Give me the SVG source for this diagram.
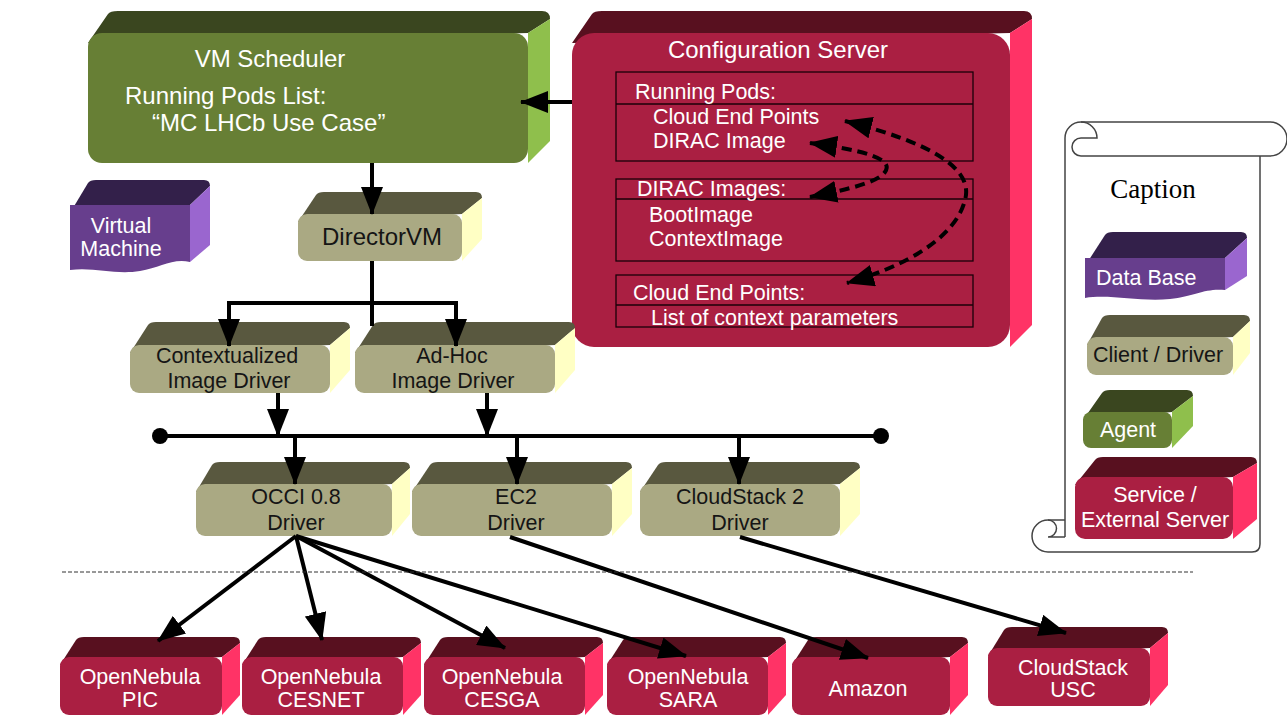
<svg xmlns="http://www.w3.org/2000/svg" width="1287" height="716" viewBox="0 0 1287 716">
<defs>
<style>
.t{font-family:"Liberation Sans",Arial,sans-serif;font-size:21.5px;fill:#fff}
.tb{font-size:24px}
.td{fill:#151515}
.c{stroke:#000;stroke-width:4;fill:none}
.gF{fill:#677f35}.gT{fill:#3a461f}.gS{fill:#8fbf4c}
.mF{fill:#aa1f42}.mT{fill:#58101f}.mS{fill:#ff3366}
.kF{fill:#aaa983}.kT{fill:#59583f}.kS{fill:#ffffc4}
.pF{fill:#673e8d}.pT{fill:#33204a}.pS{fill:#9a66cf}
.ib{fill:none;stroke:#1a0008;stroke-width:1.3}
</style>
<marker id="ah" markerUnits="userSpaceOnUse" markerWidth="28" markerHeight="22" viewBox="0 0 28 22" refX="27" refY="11" orient="auto"><path d="M0,0 L28,11 L0,22 Z" fill="#000"/></marker>
<marker id="ahs" markerUnits="userSpaceOnUse" markerWidth="28" markerHeight="22" viewBox="0 0 28 22" refX="27" refY="11" orient="auto-start-reverse"><path d="M0,0 L28,11 L0,22 Z" fill="#000"/></marker>
</defs>
<rect width="1287" height="716" fill="#fff"/>

<g id="vm-scheduler">
<path class="gT" d="M88,43 L108,14 Q110,11 118,11 L542,11 Q550,11 550,19 L528,33 Z"/>
<path class="gS" d="M528,33 L550,19 L550,141 L528,163 Z"/>
<rect class="gF" x="88" y="33" width="440" height="130" rx="14"/>
<text class="t tb" x="270" y="67" text-anchor="middle">VM Scheduler</text>
<text class="t tb" x="125" y="104">Running Pods List:</text>
<text class="t tb" x="152" y="131">“MC LHCb Use Case”</text>
</g>

<g id="config-server">
<path class="mT" d="M572,43 L592,14 Q594,11 602,11 L1024,11 Q1032,11 1032,19 L1010,33 Z"/>
<path class="mS" d="M1010,33 L1032,19 L1032,325 L1010,347 Z"/>
<rect class="mF" x="572" y="33" width="438" height="314" rx="22"/>
<text class="t tb" x="778" y="58" text-anchor="middle">Configuration Server</text>
<rect class="ib" x="616" y="72" width="357" height="89"/>
<line class="ib" x1="616" y1="104" x2="973" y2="104"/>
<text class="t" x="635" y="99">Running Pods:</text>
<text class="t" x="653" y="124">Cloud End Points</text>
<text class="t" x="653" y="148">DIRAC Image</text>
<rect class="ib" x="616" y="179" width="357" height="82"/>
<line class="ib" x1="616" y1="199" x2="973" y2="199"/>
<text class="t" x="637" y="196">DIRAC Images:</text>
<text class="t" x="649" y="222">BootImage</text>
<text class="t" x="649" y="246">ContextImage</text>
<rect class="ib" x="616" y="275" width="357" height="52"/>
<line class="ib" x1="616" y1="305" x2="973" y2="305"/>
<text class="t" x="633" y="300">Cloud End Points:</text>
<text class="t" x="651" y="325">List of context parameters</text>
</g>

<g id="virtual-machine">
<path class="pT" d="M70,213 L88,183 Q90,180 96,180 L204,180 Q210,180 210,186 L190,205 Z"/>
<path class="pS" d="M190,205 L210,186 L210,245 L190,262 Z"/>
<path class="pF" d="M70,205 L190,205 L190,262 C172,258 160,268 140,271 C115,275 95,267 70,270 Z"/>
<text class="t" x="121" y="233" text-anchor="middle">Virtual</text>
<text class="t" x="121" y="256" text-anchor="middle">Machine</text>
</g>

<g id="director-vm">
<path class="kT" d="M298,222 L316,195 Q318,192 324,192 L476,192 Q482,192 482,198 L462,214 Z"/>
<path class="kS" d="M462,214 L482,198 L482,239 L462,261 Z"/>
<rect class="kF" x="298" y="214" width="164" height="47" rx="9"/>
<text class="t td" x="382" y="245" text-anchor="middle" style="font-size:24px">DirectorVM</text>
</g>

<g id="contextualized-driver">
<path class="kT" d="M130,353 L148,325 Q150,322 156,322 L344,322 Q350,322 350,328 L330,345 Z"/>
<path class="kS" d="M330,345 L350,328 L350,370 L330,393 Z"/>
<rect class="kF" x="130" y="345" width="200" height="48" rx="9"/>
<text class="t td" x="227" y="363" text-anchor="middle">Contextualized</text>
<text class="t td" x="229" y="388" text-anchor="middle">Image Driver</text>
</g>

<g id="adhoc-driver">
<path class="kT" d="M355,353 L373,325 Q375,322 381,322 L569,322 Q575,322 575,328 L555,345 Z"/>
<path class="kS" d="M555,345 L575,328 L575,370 L555,393 Z"/>
<rect class="kF" x="355" y="345" width="200" height="48" rx="9"/>
<text class="t td" x="452" y="363" text-anchor="middle">Ad-Hoc</text>
<text class="t td" x="453" y="388" text-anchor="middle">Image Driver</text>
</g>

<g id="occi-driver">
<path class="kT" d="M196,492 L212,465 Q214,462 220,462 L404,462 Q410,462 410,468 L392,484 Z"/>
<path class="kS" d="M392,484 L410,468 L410,514 L392,536 Z"/>
<rect class="kF" x="196" y="484" width="196" height="52" rx="9"/>
<text class="t td" x="296" y="504" text-anchor="middle">OCCI 0.8</text>
<text class="t td" x="296" y="530" text-anchor="middle">Driver</text>
</g>

<g id="ec2-driver">
<path class="kT" d="M412,492 L430,465 Q432,462 438,462 L626,462 Q632,462 632,468 L612,484 Z"/>
<path class="kS" d="M612,484 L632,468 L632,514 L612,536 Z"/>
<rect class="kF" x="412" y="484" width="200" height="52" rx="9"/>
<text class="t td" x="516" y="504" text-anchor="middle">EC2</text>
<text class="t td" x="516" y="530" text-anchor="middle">Driver</text>
</g>

<g id="cloudstack-driver">
<path class="kT" d="M640,492 L658,465 Q660,462 666,462 L854,462 Q860,462 860,468 L840,484 Z"/>
<path class="kS" d="M840,484 L860,468 L860,514 L840,536 Z"/>
<rect class="kF" x="640" y="484" width="200" height="52" rx="9"/>
<text class="t td" x="740" y="504" text-anchor="middle">CloudStack 2</text>
<text class="t td" x="740" y="530" text-anchor="middle">Driver</text>
</g>

<g id="on-pic">
<path class="mT" d="M60,665 L76,640 Q78,637 84,637 L234,637 Q240,637 240,643 L222,657 Z"/>
<path class="mS" d="M222,657 L240,643 L240,695 L222,715 Z"/>
<rect class="mF" x="60" y="657" width="162" height="58" rx="9"/>
<text class="t" x="140" y="684" text-anchor="middle">OpenNebula</text>
<text class="t" x="140" y="707" text-anchor="middle">PIC</text>
</g>

<g id="on-cesnet">
<path class="mT" d="M242,665 L258,640 Q260,637 266,637 L415,637 Q421,637 421,643 L403,657 Z"/>
<path class="mS" d="M403,657 L421,643 L421,695 L403,715 Z"/>
<rect class="mF" x="242" y="657" width="161" height="58" rx="9"/>
<text class="t" x="321" y="684" text-anchor="middle">OpenNebula</text>
<text class="t" x="321" y="707" text-anchor="middle">CESNET</text>
</g>

<g id="on-cesga">
<path class="mT" d="M424,665 L440,640 Q442,637 448,637 L597,637 Q603,637 603,643 L585,657 Z"/>
<path class="mS" d="M585,657 L603,643 L603,695 L585,715 Z"/>
<rect class="mF" x="424" y="657" width="161" height="58" rx="9"/>
<text class="t" x="502" y="684" text-anchor="middle">OpenNebula</text>
<text class="t" x="502" y="707" text-anchor="middle">CESGA</text>
</g>

<g id="on-sara">
<path class="mT" d="M607,665 L623,640 Q625,637 631,637 L780,637 Q786,637 786,643 L768,657 Z"/>
<path class="mS" d="M768,657 L786,643 L786,695 L768,715 Z"/>
<rect class="mF" x="607" y="657" width="161" height="58" rx="9"/>
<text class="t" x="688" y="684" text-anchor="middle">OpenNebula</text>
<text class="t" x="688" y="707" text-anchor="middle">SARA</text>
</g>

<g id="amazon">
<path class="mT" d="M792,665 L808,640 Q810,637 816,637 L962,637 Q968,637 968,643 L950,657 Z"/>
<path class="mS" d="M950,657 L968,643 L968,695 L950,715 Z"/>
<rect class="mF" x="792" y="657" width="158" height="58" rx="9"/>
<text class="t" x="868" y="696" text-anchor="middle">Amazon</text>
</g>

<g id="cloudstack-usc">
<path class="mT" d="M988,656 L1004,630 Q1006,627 1012,627 L1162,627 Q1168,627 1168,633 L1150,648 Z"/>
<path class="mS" d="M1150,648 L1168,633 L1168,685 L1150,706 Z"/>
<rect class="mF" x="988" y="648" width="162" height="58" rx="9"/>
<text class="t" x="1073" y="675" text-anchor="middle">CloudStack</text>
<text class="t" x="1073" y="697" text-anchor="middle">USC</text>
</g>

<g id="caption">
<g fill="none" stroke="#444" stroke-width="1.5">
<path d="M1081,122 L1270,122 A17,17 0 0 1 1270,156 L1081,156" fill="#fff"/>
<path d="M1065,537 L1065,138 A16,16 0 0 1 1097,138 L1081,138 A9,9 0 0 0 1081,156"/>
<path d="M1260,156 L1260,544 Q1260,552 1252,552 L1048,552 A16,16 0 0 1 1048,520 L1065,520"/>
<path d="M1048,520 A8.5,8.5 0 0 1 1048,537 L1065,537"/>
</g>
<text x="1153" y="198" text-anchor="middle" style="font-family:'Liberation Serif','Times New Roman',serif;font-size:27px;fill:#000">Caption</text>
<g id="legend-database">
<path class="pT" d="M1085,266 L1105,235 Q1107,232 1113,232 L1241,232 Q1247,232 1247,238 L1225,258 Z"/>
<path class="pS" d="M1225,258 L1247,238 L1247,276 L1225,290 Z"/>
<path class="pF" d="M1085,258 L1225,258 L1225,290 C1205,288 1195,296 1170,299 C1140,302 1110,294 1085,298 Z"/>
<text class="t" x="1096" y="285">Data Base</text>
</g>
<g id="legend-client">
<path class="kT" d="M1087,345 L1102,318 Q1104,315 1110,315 L1244,315 Q1250,315 1250,321 L1233,337 Z"/>
<path class="kS" d="M1233,337 L1250,321 L1250,353 L1233,375 Z"/>
<rect class="kF" x="1087" y="337" width="146" height="38" rx="9"/>
<text class="t td" x="1158" y="362" text-anchor="middle">Client / Driver</text>
</g>
<g id="legend-agent">
<path class="gT" d="M1083,420 L1102,393 Q1104,390 1110,390 L1187,390 Q1193,390 1193,396 L1172,412 Z"/>
<path class="gS" d="M1172,412 L1193,396 L1193,426 L1172,448 Z"/>
<rect class="gF" x="1083" y="412" width="89" height="36" rx="8"/>
<text class="t" x="1128" y="437" text-anchor="middle">Agent</text>
</g>
<g id="legend-service">
<path class="mT" d="M1075,485 L1095,460 Q1097,457 1103,457 L1251,457 Q1257,457 1257,463 L1233,477 Z"/>
<path class="mS" d="M1233,477 L1257,463 L1257,519 L1233,539 Z"/>
<rect class="mF" x="1075" y="477" width="158" height="62" rx="10"/>
<text class="t" x="1155" y="502" text-anchor="middle">Service /</text>
<text class="t" x="1155" y="527" text-anchor="middle">External Server</text>
</g>
</g>

<g id="connectors">
<path class="c" d="M572,102 L521,102" marker-end="url(#ah)"/>
<path class="c" d="M372,163 L372,214" marker-end="url(#ah)"/>
<path class="c" d="M372,261 L372,326"/>
<path class="c" d="M229,346 L229,303 L456,303 L456,346" marker-end="url(#ah)" marker-start="url(#ahs)"/>
<path class="c" d="M278,393 L278,436" marker-end="url(#ah)"/>
<path class="c" d="M487,393 L487,436" marker-end="url(#ah)"/>
<path class="c" d="M160,436 L881,436"/>
<circle cx="160" cy="436" r="8"/>
<circle cx="881" cy="436" r="8"/>
<path class="c" d="M295,436 L295,484" marker-end="url(#ah)"/>
<path class="c" d="M517,436 L517,484" marker-end="url(#ah)"/>
<path class="c" d="M739,436 L739,484" marker-end="url(#ah)"/>
<path class="c" d="M296,536 L158,641" marker-end="url(#ah)"/>
<path class="c" d="M296,536 L322,640" marker-end="url(#ah)"/>
<path class="c" d="M296,536 L505,648" marker-end="url(#ah)"/>
<path class="c" d="M296,536 L686,656" marker-end="url(#ah)"/>
<path class="c" d="M510,537 L868,658" marker-end="url(#ah)"/>
<path class="c" d="M740,537 L1066,633" marker-end="url(#ah)"/>
<path class="c" d="M845,121 C920,140 975,165 965,200 C955,240 900,268 847,283" stroke-dasharray="10,6" marker-start="url(#ahs)" marker-end="url(#ah)"/>
<path class="c" d="M810,143 C860,150 895,158 885,172 C877,183 845,190 810,197" stroke-dasharray="10,6" marker-start="url(#ahs)" marker-end="url(#ah)"/>
<path d="M62,572 L1193,572" stroke="#333" stroke-width="1" stroke-dasharray="4,2" fill="none"/>
</g>
</svg>
